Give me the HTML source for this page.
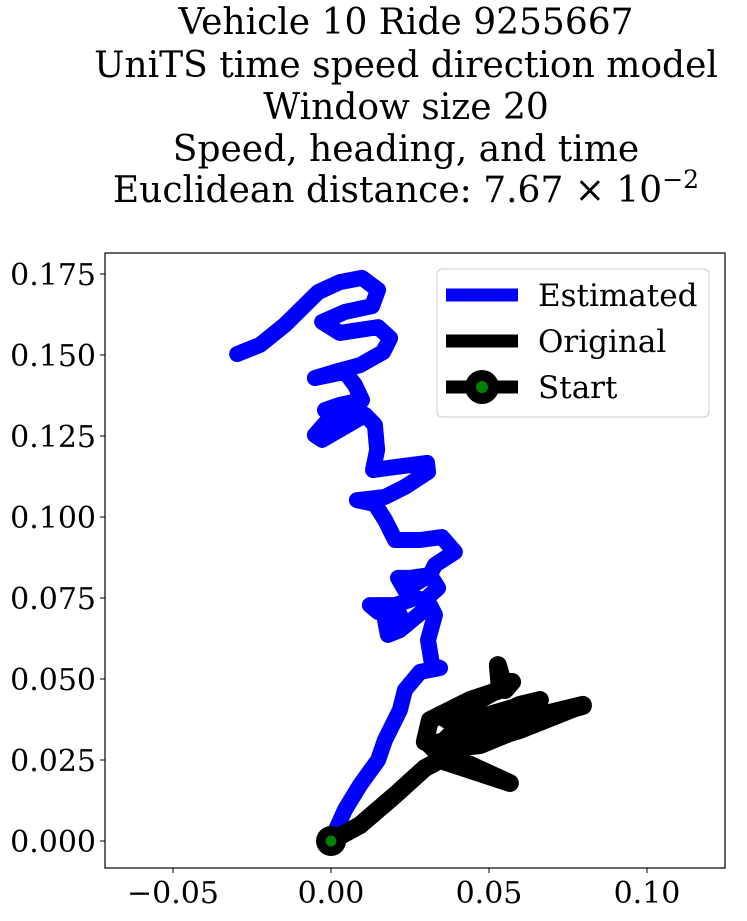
<!DOCTYPE html>
<html><head><meta charset="utf-8"><style>
body{margin:0;background:#fff;}
svg text{font-family:"DejaVu Serif","Liberation Serif",serif;fill:#000;}
</style></head><body>
<svg width="747" height="916" viewBox="0 0 747 916">
<g font-size="36" text-anchor="middle">
<text x="406" y="34">Vehicle 10 Ride 9255667</text>
<text x="406" y="77">UniTS time speed direction model</text>
<text x="406" y="119">Window size 20</text>
<text x="406" y="161">Speed, heading, and time</text>
<text x="406" y="202">Euclidean distance: 7.67 × 10<tspan dy="-14" font-size="25">−2</tspan></text>
</g>
<g id="plot"></g>
<rect x="105" y="253" width="620" height="615" fill="none" stroke="#000" stroke-width="1.2"/>
<g id="ticks" font-size="30"></g>
<g>
<rect x="437" y="269" width="272" height="148" rx="5" fill="#fff" fill-opacity="0.85" stroke="#ccc"/>
<line x1="446" y1="295" x2="518" y2="295" stroke="#00f" stroke-width="13"/>
<text x="538" y="306" font-size="31">Estimated</text>
<line x1="446" y1="341" x2="518" y2="341" stroke="#000" stroke-width="13"/>
<text x="538" y="352" font-size="31">Original</text>
<line x1="446" y1="387" x2="518" y2="387" stroke="#000" stroke-width="13"/>
<circle cx="482" cy="387" r="17" fill="#000"/>
<circle cx="482" cy="387" r="6" fill="green"/>
<text x="538" y="398" font-size="31">Start</text>
</g>
</svg>
<script>
const estX=[-0.0297,-0.0225,-0.0146,-0.0098,-0.0041,0.0028,0.0098,0.0149,0.0130,0.0044,-0.0028,0.0028,0.0149,0.0187,0.0165,0.0092,0.0013,-0.0051,0.0044,0.0076,0.0098,0.0028,-0.0019,0.0028,0.0092,-0.0003,-0.0051,-0.0028,0.0108,0.0139,0.0146,0.0133,0.0203,0.0304,0.0307,0.0234,0.0171,0.0082,0.0139,0.0171,0.0203,0.0282,0.0351,0.0392,0.0329,0.0313,0.0250,0.0212,0.0234,0.0313,0.0339,0.0297,0.0266,0.0203,0.0123,0.0149,0.0218,0.0171,0.0180,0.0218,0.0313,0.0329,0.0307,0.0320,0.0345,0.0282,0.0234,0.0218,0.0171,0.0149,0.0092,0.0044,0];
const estY=[0.1503,0.1531,0.1593,0.1639,0.1694,0.1725,0.1738,0.1701,0.1651,0.1633,0.1602,0.1568,0.1586,0.1552,0.1509,0.1469,0.1448,0.1429,0.1448,0.1407,0.1361,0.1346,0.1330,0.1315,0.1330,0.1306,0.1253,0.1238,0.1315,0.1284,0.1207,0.1145,0.1154,0.1167,0.1139,0.1093,0.1062,0.1052,0.1040,0.0991,0.0929,0.0929,0.0938,0.0892,0.0852,0.0821,0.0812,0.0812,0.0775,0.0821,0.0781,0.0744,0.0750,0.0728,0.0728,0.0707,0.0698,0.0682,0.0636,0.0651,0.0728,0.0698,0.0620,0.0543,0.0534,0.0522,0.0466,0.0404,0.0312,0.0250,0.0173,0.0096,0];
const origX=[0,0.0092,0.0203,0.0297,0.0345,0.0566,0.0440,0.0345,0.0313,0.0535,0.0797,0.0598,0.0440,0.0297,0.0313,0.0440,0.0535,0.0528,0.0551,0.0573,0.0440,0.0345,0.0392,0.0661,0.0598,0.0377,0.0329,0.0472,0.0725,0.0797];
const origY=[0,0.0049,0.0142,0.0225,0.0250,0.0179,0.0235,0.0265,0.0296,0.0358,0.0420,0.0343,0.0296,0.0306,0.0373,0.0435,0.0466,0.0543,0.0466,0.0491,0.0420,0.0389,0.0358,0.0435,0.0420,0.0327,0.0281,0.0296,0.0398,0.0417];
const xTicks=[-0.05,0.00,0.05,0.10];
const xTickLabels=["−0.05","0.00","0.05","0.10"];
const yTicks=[0,0.025,0.05,0.075,0.1,0.125,0.15,0.175];
const yTickLabels=["0.000","0.025","0.050","0.075","0.100","0.125","0.150","0.175"];
const sx=v=>331+v*3160, sy=v=>841-v*3240;
const NS="http://www.w3.org/2000/svg";
const plot=document.getElementById('plot'), tk=document.getElementById('ticks');
function line(xs,ys,color,w,name){
  const p=document.createElementNS(NS,'polyline');
  p.setAttribute('points',xs.map((x,i)=>sx(x)+','+sy(ys[i])).join(' '));
  p.setAttribute('fill','none');p.setAttribute('stroke',color);p.setAttribute('stroke-width',w);
  p.setAttribute('stroke-linejoin','round');p.setAttribute('stroke-linecap','round');
  
  
  plot.appendChild(p);
}
line(estX,estY,'#00f',16,'estimated-path');
line(origX,origY,'#000',18,'original-path');
const c1=document.createElementNS(NS,'circle');
c1.setAttribute('cx',sx(origX[0]));c1.setAttribute('cy',sy(origY[0]));c1.setAttribute('r',15);c1.setAttribute('fill','#000');


plot.appendChild(c1);
const c2=document.createElementNS(NS,'circle');
c2.setAttribute('cx',sx(origX[0]));c2.setAttribute('cy',sy(origY[0]));c2.setAttribute('r',5.5);c2.setAttribute('fill','green');
plot.appendChild(c2);
xTicks.forEach((v,i)=>{
  const l=document.createElementNS(NS,'line');
  l.setAttribute('x1',sx(v));l.setAttribute('x2',sx(v));l.setAttribute('y1',868);l.setAttribute('y2',873);l.setAttribute('stroke','#000');
  tk.appendChild(l);
  const t=document.createElementNS(NS,'text');
  t.setAttribute('x',sx(v));t.setAttribute('y',903);t.setAttribute('text-anchor','middle');
  t.textContent=xTickLabels[i];
  
  
  tk.appendChild(t);
});
yTicks.forEach((v,i)=>{
  const l=document.createElementNS(NS,'line');
  l.setAttribute('x1',100);l.setAttribute('x2',105);l.setAttribute('y1',sy(v));l.setAttribute('y2',sy(v));l.setAttribute('stroke','#000');
  tk.appendChild(l);
  const t=document.createElementNS(NS,'text');
  t.setAttribute('x',96);t.setAttribute('y',sy(v)+11);t.setAttribute('text-anchor','end');
  t.textContent=yTickLabels[i];
  
  
  tk.appendChild(t);
});
</script>
</body></html>
